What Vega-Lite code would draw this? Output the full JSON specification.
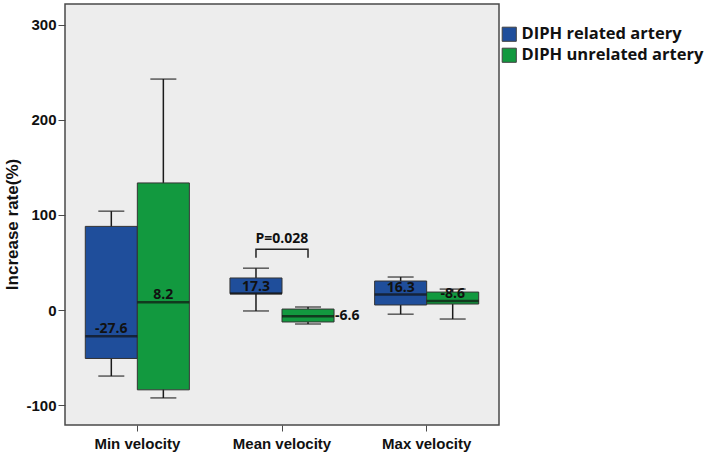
{
  "$schema": "https://vega.github.io/schema/vega-lite/v6.json",
  "autosize": "none",
  "width": 434,
  "height": 421,
  "padding": {"left": 65, "top": 4, "right": 215, "bottom": 33},
  "background": "#ffffff",
  "config": {
    "view": {"fill": "#ededed", "stroke": "#4a4a4a", "strokeWidth": 1.5},
    "font": "Liberation Sans"
  },
  "datasets": {
    "boxes": [
      {"cat": "Min velocity", "group": "DIPH related artery", "lo": -69.5, "q1": -51, "med": -27.6, "q3": 88, "hi": 104, "label": "-27.6"},
      {"cat": "Min velocity", "group": "DIPH unrelated artery", "lo": -92.5, "q1": -84, "med": 8.2, "q3": 133.7, "hi": 243, "label": "8.2"},
      {"cat": "Mean velocity", "group": "DIPH related artery", "lo": -1, "q1": 17.2, "med": 17.3, "q3": 33.7, "hi": 44, "label": "17.3"},
      {"cat": "Mean velocity", "group": "DIPH unrelated artery", "lo": -14.7, "q1": -12.6, "med": -6.6, "q3": 1, "hi": 3.2, "label": "-6.6"},
      {"cat": "Max velocity", "group": "DIPH related artery", "lo": -4.4, "q1": 5.3, "med": 16.3, "q3": 30.5, "hi": 34.7, "label": "16.3"},
      {"cat": "Max velocity", "group": "DIPH unrelated artery", "lo": -9.5, "q1": 6.3, "med": 9.5, "q3": 18.9, "hi": 22, "label": "-8.6"}
    ],
    "bracket": [
      {"cat": "Mean velocity", "group": "DIPH related artery", "v": 55, "k": 1},
      {"cat": "Mean velocity", "group": "DIPH related artery", "v": 64, "k": 2},
      {"cat": "Mean velocity", "group": "DIPH unrelated artery", "v": 64, "k": 3},
      {"cat": "Mean velocity", "group": "DIPH unrelated artery", "v": 55, "k": 4}
    ],
    "ptext": [
      {"cat": "Mean velocity", "v": 66, "label": "P=0.028"}
    ]
  },
  "encoding": {
    "x": {
      "field": "cat", "type": "nominal",
      "sort": ["Min velocity", "Mean velocity", "Max velocity"],
      "scale": {"paddingInner": 0, "paddingOuter": 0},
      "axis": {
        "title": null, "labelAngle": 0, "labelFont": "Liberation Sans", "labelFontWeight": "bold",
        "labelFontSize": 15, "labelColor": "#111111", "tickColor": "#4a4a4a", "tickSize": 6,
        "domain": false, "labelPadding": 5
      }
    },
    "xOffset": {
      "field": "group", "type": "nominal",
      "sort": ["DIPH related artery", "DIPH unrelated artery"],
      "scale": {"paddingInner": 0, "paddingOuter": 0.39}
    }
  },
  "layer": [
    {
      "data": {"name": "boxes"},
      "mark": {"type": "rule", "color": "#1a1a1a", "strokeWidth": 1.5},
      "encoding": {
        "y": {
          "field": "lo", "type": "quantitative",
          "scale": {"domain": [-121, 322], "nice": false, "zero": false},
          "axis": {
            "values": [-100, 0, 100, 200, 300], "grid": false, "domain": false,
            "labelExpr": "'' + datum.value",
            "title": "Increase rate(%)", "titleFont": "Liberation Sans", "titleFontWeight": "bold",
            "titleFontSize": 17, "titleColor": "#111111", "titlePadding": 4, "titleY": 220,
            "labelFont": "Liberation Sans", "labelFontWeight": "bold", "labelFontSize": 15,
            "labelColor": "#111111", "tickColor": "#4a4a4a", "tickSize": 7, "labelPadding": 2
          }
        },
        "y2": {"field": "hi"}
      }
    },
    {
      "data": {"name": "boxes"},
      "mark": {"type": "tick", "color": "#1a1a1a", "thickness": 1.5, "size": 26},
      "encoding": {"y": {"field": "lo", "type": "quantitative"}}
    },
    {
      "data": {"name": "boxes"},
      "mark": {"type": "tick", "color": "#1a1a1a", "thickness": 1.5, "size": 26},
      "encoding": {"y": {"field": "hi", "type": "quantitative"}}
    },
    {
      "data": {"name": "boxes"},
      "mark": {"type": "bar", "stroke": "#333333", "strokeWidth": 1},
      "encoding": {
        "y": {"field": "q1", "type": "quantitative"},
        "y2": {"field": "q3"},
        "color": {
          "field": "group", "type": "nominal",
          "sort": ["DIPH related artery", "DIPH unrelated artery"],
          "scale": {"range": ["#1f4e9b", "#12993f"]},
          "legend": {
            "title": null, "orient": "none", "legendX": 436, "legendY": 22,
            "symbolType": "square", "symbolSize": 200, "symbolStrokeColor": "#444444",
            "symbolStrokeWidth": 1, "symbolOpacity": 1,
            "labelFont": "Open Sans", "labelFontWeight": "bold", "labelFontSize": 16.5,
            "labelColor": "#111111", "rowPadding": 2, "labelOffset": 4, "labelLimit": 300
          }
        }
      }
    },
    {
      "data": {"name": "boxes"},
      "mark": {"type": "tick", "color": "#111111", "thickness": 2.5, "size": 52},
      "encoding": {"y": {"field": "med", "type": "quantitative"}}
    },
    {
      "data": {"name": "boxes"},
      "transform": [{"filter": "datum.label != '-6.6'"}],
      "mark": {"type": "text", "font": "Open Sans", "fontWeight": "bold", "fontSize": 14, "baseline": "bottom", "dy": 0, "color": "#111111"},
      "encoding": {"y": {"field": "med", "type": "quantitative"}, "text": {"field": "label"}}
    },
    {
      "data": {"name": "boxes"},
      "transform": [{"filter": "datum.label == '-6.6'"}],
      "mark": {"type": "text", "font": "Open Sans", "fontWeight": "bold", "fontSize": 14, "baseline": "middle", "align": "left", "dx": 27, "color": "#111111"},
      "encoding": {"y": {"field": "med", "type": "quantitative"}, "text": {"field": "label"}}
    },
    {
      "data": {"name": "bracket"},
      "mark": {"type": "line", "color": "#222222", "strokeWidth": 1.5, "interpolate": "linear"},
      "encoding": {
        "y": {"field": "v", "type": "quantitative"},
        "order": {"field": "k", "type": "quantitative"}
      }
    },
    {
      "data": {"name": "ptext"},
      "mark": {"type": "text", "font": "Open Sans", "fontWeight": "bold", "fontSize": 14, "baseline": "bottom", "dy": -1, "color": "#111111"},
      "encoding": {
        "xOffset": {"value": 72.3},
        "y": {"field": "v", "type": "quantitative"},
        "text": {"field": "label"}
      }
    }
  ]
}
